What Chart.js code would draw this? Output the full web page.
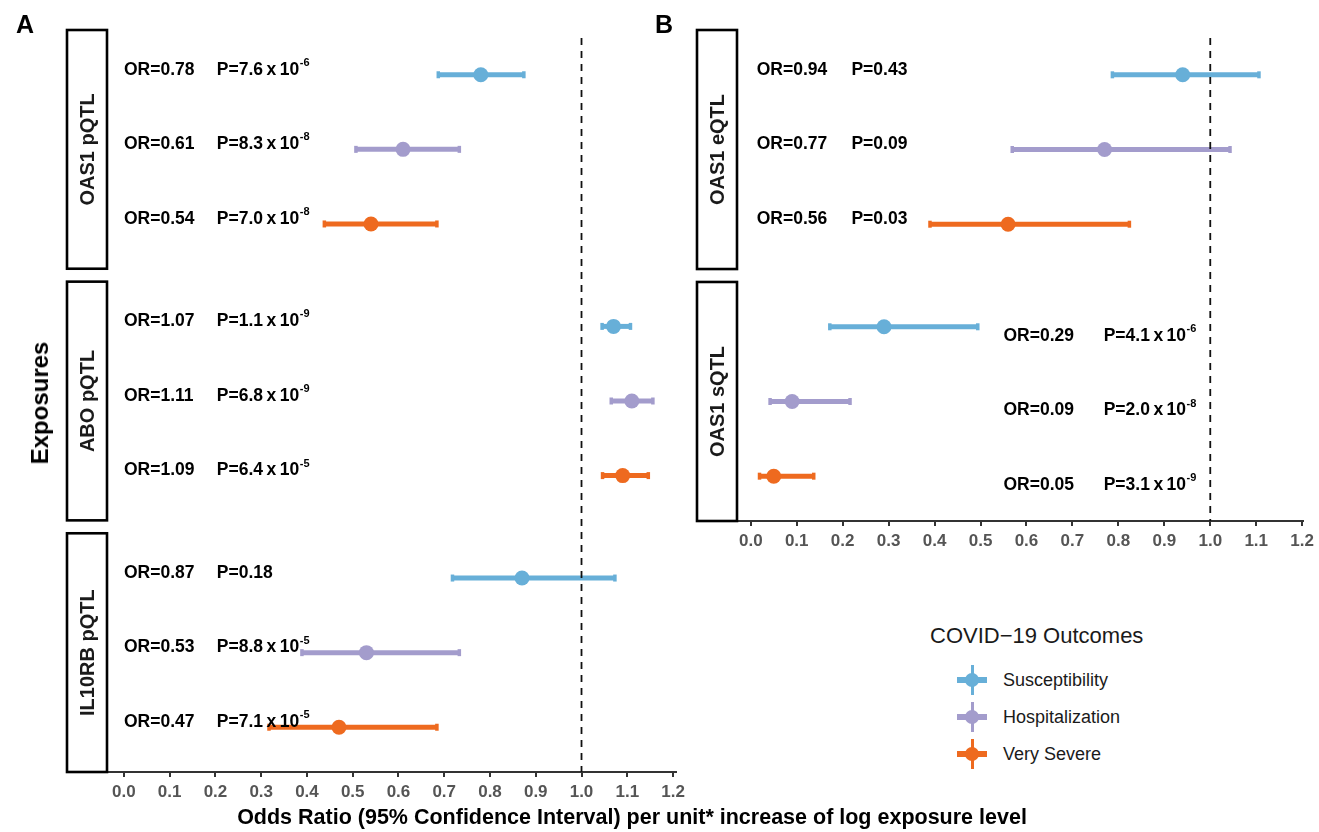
<!DOCTYPE html>
<html>
<head>
<meta charset="utf-8">
<script src="https://cdn.jsdelivr.net/npm/chart.js@4.4.0/dist/chart.umd.min.js"></script>
<style>
body{margin:0;background:#fff;width:1319px;height:832px;position:relative;overflow:hidden;font-family:'Liberation Sans',Arial,sans-serif;color:#000}
canvas{position:absolute}
#chartA{left:0;top:0}
#chartB{left:650px;top:0}
.tag{position:absolute;font-weight:bold;font-size:25px;line-height:1}
#ylab{position:absolute;left:40px;top:403px;transform:translate(-50%,-50%) rotate(-90deg);font-weight:bold;font-size:24px;white-space:nowrap}
#xlab{position:absolute;left:632px;top:817px;transform:translate(-50%,-50%);font-weight:bold;font-size:21.5px;white-space:nowrap}
#legend .ltitle{position:absolute;left:930px;top:623px;font-size:22px;color:#1a1a1a;white-space:nowrap}
.item{position:absolute;left:957px;height:30px;width:200px}
.key{position:absolute;left:0;top:0;width:30px;height:30px}
.key .h{position:absolute;left:0;top:12px;width:30px;height:6px}
.key .v{position:absolute;left:13.5px;top:0;width:3px;height:30px}
.key .d{position:absolute;left:8px;top:8px;width:14px;height:14px;border-radius:50%}
.item span{position:absolute;left:46px;top:5px;font-size:18px;color:#1a1a1a;white-space:nowrap}
</style>
</head>
<body>
<canvas id="chartA" width="700" height="812"></canvas>
<canvas id="chartB" width="669" height="561"></canvas>
<div class="tag" style="left:16px;top:12px">A</div>
<div class="tag" style="left:655px;top:12px">B</div>
<div id="ylab">Exposures</div>
<div id="xlab">Odds Ratio (95% Confidence Interval) per unit* increase of log exposure level</div>
<div id="legend"><div class="ltitle">COVID&minus;19 Outcomes</div></div>
<script>
const outcomes = ['Susceptibility', 'Hospitalization', 'Very Severe'];
const outcomeColors = ['#67afd8', '#a39ccc', '#ee6a1f'];
const xTicks = [0, 0.1, 0.2, 0.3, 0.4, 0.5, 0.6, 0.7, 0.8, 0.9, 1.0, 1.1, 1.2];

// panel A
const exposuresA = ['OAS1 pQTL', 'ABO pQTL', 'IL10RB pQTL'];
const orA = [0.78, 0.61, 0.54, 1.07, 1.11, 1.09, 0.87, 0.53, 0.47];
const lowerA = [0.687, 0.507, 0.438, 1.045, 1.065, 1.046, 0.718, 0.389, 0.317];
const upperA = [0.874, 0.733, 0.684, 1.107, 1.156, 1.146, 1.073, 0.733, 0.684];
const pA = ['7.6', '8.3', '7.0', '1.1', '6.8', '6.4', '0.18', '8.8', '7.1'];
const pExpA = ['-6', '-8', '-8', '-9', '-9', '-5', '', '-5', '-5'];

// panel B
const exposuresB = ['OAS1 eQTL', 'OAS1 sQTL'];
const orB = [0.94, 0.77, 0.56, 0.29, 0.09, 0.05];
const lowerB = [0.787, 0.569, 0.390, 0.172, 0.042, 0.019];
const upperB = [1.106, 1.043, 0.824, 0.494, 0.216, 0.137];
const pB = ['0.43', '0.09', '0.03', '4.1', '2.0', '3.1'];
const pExpB = ['', '', '', '-6', '-8', '-9'];

const FACET_STEP = 3.3733;
const FACET_PAD = 0.6;
const ANNOT_FONT = "bold 17.5px 'Liberation Sans', Arial, sans-serif";
const SUP_FONT = "bold 11px 'Liberation Sans', Arial, sans-serif";

function rowY(i){
    return Math.floor(i / 3) * FACET_STEP + (i % 3);
}

// draws P=7.6 x 10^-6 with tight spacing and a raised exponent
function drawP(ctx, mant, exp, px, py){
    ctx.font = ANNOT_FONT;
    let s = 'P=' + mant;
    ctx.fillText(s, px, py);
    if (!exp) return;
    let cx = px + ctx.measureText(s).width + 3.5;
    ctx.fillText('x', cx, py);
    cx += ctx.measureText('x').width + 3.5;
    ctx.fillText('10', cx, py);
    cx += ctx.measureText('10').width + 0.5;
    ctx.font = SUP_FONT;
    ctx.fillText(exp, cx, py - 7);
}

const facetPlugin = {
    id: 'facets',
    beforeDatasetsDraw(chart, args, opts){
        const ctx = chart.ctx;
        const y = chart.scales.y;
        const left = chart.chartArea.left;
        ctx.save();
        opts.exposures.forEach((name, f) => {
            const top = y.getPixelForValue(f * FACET_STEP - FACET_PAD);
            const bot = y.getPixelForValue(f * FACET_STEP + 2 + FACET_PAD);
            ctx.fillStyle = '#fff';
            ctx.fillRect(left - 40, top, 40, bot - top);
            ctx.lineWidth = 2.6;
            ctx.strokeStyle = '#000';
            ctx.strokeRect(left - 40, top, 40, bot - top);
            ctx.save();
            ctx.translate(left - 19, (top + bot) / 2);
            ctx.rotate(-Math.PI / 2);
            ctx.fillStyle = '#1a1a1a';
            ctx.font = "bold 20px 'Liberation Sans', Arial, sans-serif";
            ctx.textAlign = 'center';
            ctx.textBaseline = 'middle';
            ctx.fillText(name, 0, 0);
            ctx.restore();
        });
        ctx.restore();
    },
    afterDatasetsDraw(chart, args, opts){
        const ctx = chart.ctx;
        const x = chart.scales.x;
        const y = chart.scales.y;
        const area = chart.chartArea;
        ctx.save();
        // reference line at OR = 1
        const x1 = x.getPixelForValue(1);
        ctx.strokeStyle = '#111';
        ctx.lineWidth = 1.8;
        ctx.setLineDash([7, 6]);
        ctx.beginPath();
        ctx.moveTo(x1, area.top + 8);
        ctx.lineTo(x1, area.bottom);
        ctx.stroke();
        ctx.setLineDash([]);
        // OR / P labels
        ctx.fillStyle = '#000';
        ctx.textBaseline = 'middle';
        ctx.textAlign = 'left';
        opts.or.forEach((v, i) => {
            const pos = opts.labelPos[Math.floor(i / 3)];
            const py = y.getPixelForValue(rowY(i)) + pos.dy;
            ctx.font = ANNOT_FONT;
            ctx.fillText('OR=' + v.toFixed(2), x.getPixelForValue(pos.orX), py);
            drawP(ctx, opts.p[i], opts.pExp[i], x.getPixelForValue(pos.pX), py);
        });
        ctx.restore();
    }
};

function CreatePanel(canva, exposures, or, lower, upper, p, pExp, labelPos, xmin, xmax, padding){
    const datasets = [];
    outcomes.forEach((name, k) => {
        const pts = [];
        or.forEach((v, i) => { if (i % 3 === k) pts.push({x: v, y: rowY(i)}); });
        datasets.push({
            label: name,
            data: pts,
            backgroundColor: outcomeColors[k],
            borderWidth: 0,
            pointRadius: 7.5,
            order: 0
        });
    });
    or.forEach((v, i) => {
        const c = outcomeColors[i % 3];
        datasets.push({
            label: 'ci' + i,
            data: [{x: lower[i], y: rowY(i)}, {x: upper[i], y: rowY(i)}],
            showLine: true,
            borderColor: c,
            borderWidth: 5,
            borderCapStyle: 'butt',
            pointStyle: 'line',
            rotation: 90,
            pointRadius: 3.5,
            pointBorderWidth: 3.5,
            pointBorderColor: c,
            order: 1
        });
    });
    const ctx = document.getElementById(canva);
    return new Chart(ctx, {
        type: 'scatter',
        data: { datasets: datasets },
        options: {
            responsive: false,
            animation: false,
            events: [],
            layout: { padding: padding },
            plugins: {
                legend: { display: false },
                tooltip: { enabled: false },
                facets: { exposures: exposures, or: or, p: p, pExp: pExp, labelPos: labelPos }
            },
            scales: {
                x: {
                    type: 'linear',
                    min: xmin,
                    max: xmax,
                    bounds: 'data',
                    afterFit: s => { s.height = 40; },
                    afterBuildTicks: s => { s.ticks = xTicks.map(v => ({value: v})); },
                    ticks: {
                        callback: v => v.toFixed(1),
                        color: '#555',
                        font: { family: "'Liberation Sans', Arial, sans-serif", size: 17, weight: 'bold' },
                        padding: 5,
                        maxRotation: 0,
                        autoSkip: false
                    },
                    grid: { display: true, drawOnChartArea: false, drawTicks: true, tickLength: 5, color: '#333', lineWidth: 2 },
                    border: { display: true, color: '#333', width: 2 }
                },
                y: {
                    type: 'linear',
                    display: false,
                    reverse: true,
                    bounds: 'data',
                    min: -FACET_PAD,
                    max: (exposures.length - 1) * FACET_STEP + 2 + FACET_PAD
                }
            }
        },
        plugins: [facetPlugin]
    });
}

CreatePanel('chartA', exposuresA, orA, lowerA, upperA, pA, pExpA,
    [{orX: 0.0, pX: 0.203, dy: -5}, {orX: 0.0, pX: 0.203, dy: -5}, {orX: 0.0, pX: 0.203, dy: -5}],
    -0.037, 1.2065, {left: 107, right: 24, top: 30, bottom: 0});

CreatePanel('chartB', exposuresB, orB, lowerB, upperB, pB, pExpB,
    [{orX: 0.013, pX: 0.219, dy: -5}, {orX: 0.55, pX: 0.768, dy: 9}],
    -0.03, 1.202, {left: 87, right: 14, top: 30, bottom: 0});

// legend
const legend = document.getElementById('legend');
outcomes.forEach((name, k) => {
    const item = document.createElement('div');
    item.className = 'item';
    item.style.top = (665 + k * 37) + 'px';
    const c = outcomeColors[k];
    item.innerHTML = '<div class="key"><div class="h" style="background:' + c + '"></div><div class="v" style="background:' + c + '"></div><div class="d" style="background:' + c + '"></div></div><span>' + name + '</span>';
    legend.appendChild(item);
});
</script>
</body>
</html>
